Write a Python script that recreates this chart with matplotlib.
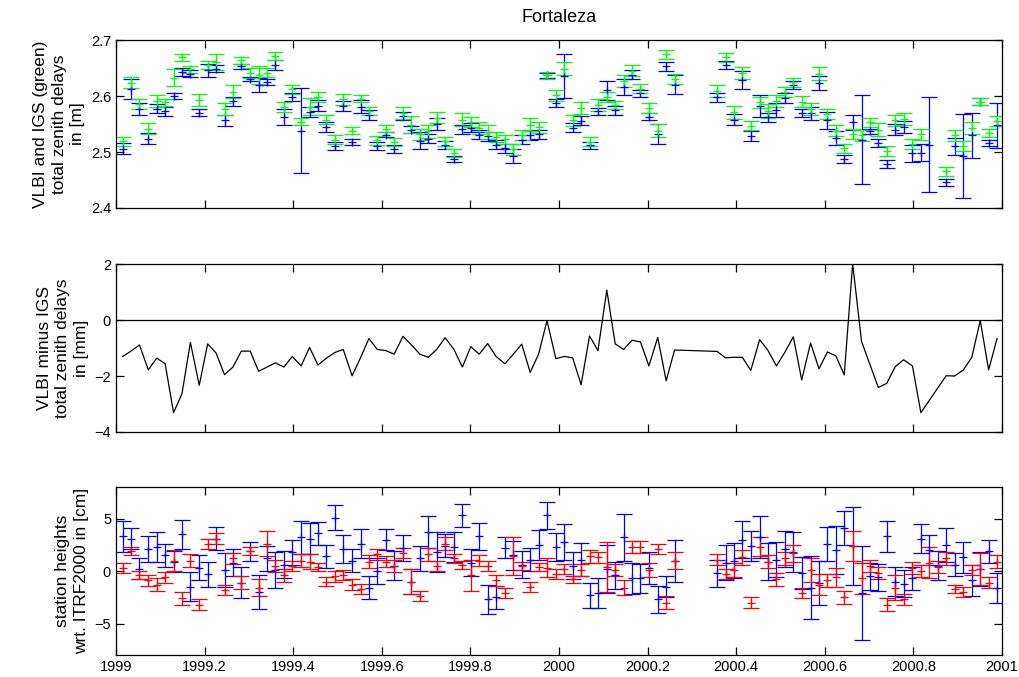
import numpy as np
import matplotlib
matplotlib.use("Agg")
import matplotlib.pyplot as plt

plt.rcParams['font.family'] = ['Liberation Sans', 'DejaVu Sans']

nan = np.nan

# session epochs (decimal year), weekly with a few gaps
epochs = [1999.015, 1999.034, 1999.053, 1999.073, 1999.092, 1999.111, 1999.130, 1999.149,
          1999.168, 1999.188, 1999.207, 1999.226, 1999.245, 1999.264, 1999.283, 1999.303,
          1999.322, 1999.341, 1999.360, 1999.379, 1999.398, 1999.418, 1999.437, 1999.456,
          1999.475, 1999.494, 1999.513, 1999.533, 1999.552, 1999.571, 1999.590, 1999.609,
          1999.628, 1999.648, 1999.667, 1999.686, 1999.705, 1999.724, 1999.743, 1999.763,
          1999.782, 1999.801, 1999.820, 1999.839, 1999.858, 1999.878, 1999.897, 1999.916,
          1999.935, 1999.954, 1999.973, 1999.993, 2000.012, 2000.031, 2000.050, 2000.069,
          2000.088, 2000.108, 2000.127, 2000.146, 2000.165, 2000.184, 2000.203, 2000.223,
          2000.242, 2000.261, 2000.357, 2000.376, 2000.395, 2000.414, 2000.433, 2000.453,
          2000.472, 2000.491, 2000.510, 2000.529, 2000.548, 2000.568, 2000.587, 2000.606,
          2000.625, 2000.644, 2000.663, 2000.683, 2000.702, 2000.721, 2000.740, 2000.759,
          2000.778, 2000.798, 2000.817, 2000.836, 2000.855, 2000.874, 2000.893, 2000.913,
          2000.932, 2000.951, 2000.970, 2000.989]

# total zenith delays [m]
vlbi_ztd = [2.506, 2.613, 2.577, 2.524, 2.577, 2.573, 2.600, 2.643, 2.640, 2.570, 2.646, 2.649,
            2.557, 2.591, 2.653, 2.630, 2.620, 2.625, 2.656, 2.563, 2.599, 2.538, 2.571, 2.583,
            2.544, 2.510, 2.583, 2.518, 2.581, 2.566, 2.510, 2.531, 2.506, 2.564, 2.540, 2.520,
            2.524, 2.550, 2.513, 2.487, 2.541, 2.543, 2.531, 2.528, 2.513, 2.507, 2.493, 2.522,
            2.530, 2.532, 2.637, 2.587, 2.636, 2.543, 2.556, 2.512, 2.573, 2.610, 2.575, 2.616,
            2.638, 2.605, 2.563, 2.532, 2.653, 2.620, 2.598, 2.655, 2.558, 2.628, 2.529, 2.582,
            2.562, 2.575, 2.596, 2.619, 2.569, 2.569, 2.623, 2.557, 2.525, 2.487, 2.553, 2.522,
            2.537, 2.516, 2.478, 2.540, 2.545, 2.498, 2.499, 2.513, nan, 2.446, 2.510, 2.493,
            2.530, 2.590, 2.516, 2.548]
vlbi_ztd_err = [.010, .018, .010, .010, .008, .008, .006, .007, .006, .006, .012, .006,
                .010, .008, .005, .004, .012, .005, .009, .014, .007, .076, .009, .010,
                .009, .007, .009, .005, .012, .009, .007, .005, .007, .007, .006, .015,
                .008, .010, .007, .005, .008, .008, .008, .008, .008, .008, .013, .008,
                .008, .008, .005, .007, .040, .008, .008, .006, .006, .017, .008, .015,
                .008, .006, .006, .018, .008, .017, .008, .007, .010, .016, .009, .020,
                .008, .013, .009, .007, .007, .012, .012, .015, .012, .007, .013, .079,
                .005, .007, .007, .010, .011, .015, .015, .085, nan, .006, .015, .075,
                .040, .006, .006, .040]
igs_ztd = [2.519, 2.624, 2.586, 2.542, 2.591, 2.589, 2.633, 2.669, 2.648, 2.593, 2.655, 2.661,
           2.577, 2.608, 2.664, 2.641, 2.638, 2.642, 2.671, 2.580, 2.612, 2.554, 2.581, 2.599,
           2.558, 2.522, 2.594, 2.538, 2.595, 2.573, 2.521, 2.542, 2.518, 2.570, 2.549, 2.532,
           2.537, 2.561, 2.519, 2.498, 2.558, 2.553, 2.543, 2.536, 2.526, 2.523, 2.505, 2.531,
           2.549, 2.544, 2.637, 2.601, 2.649, 2.557, 2.579, 2.518, 2.584, 2.599, 2.584, 2.627,
           2.645, 2.613, 2.579, 2.538, 2.675, 2.631, 2.609, 2.669, 2.571, 2.641, 2.547, 2.589,
           2.573, 2.591, 2.608, 2.625, 2.590, 2.577, 2.640, 2.568, 2.538, 2.507, 2.533, 2.530,
           2.553, 2.540, 2.501, 2.557, 2.559, 2.514, 2.532, nan, nan, 2.466, 2.530, 2.511,
           2.543, 2.590, 2.534, 2.555]
igs_ztd_err = [.008, .010, .009, .009, .011, .006, .015, .007, .006, .011, .007, .014,
               .011, .011, .006, .009, .016, .008, .007, .009, .008, .006, .015, .009,
               .008, .008, .010, .006, .006, .007, .008, .007, .007, .011, .015, .010,
               .012, .010, .008, .007, .011, .009, .010, .012, .009, .008, .010, .009,
               .012, .010, .006, .009, .012, .010, .011, .008, .010, .009, .008, .011,
               .010, .008, .009, .012, .008, .009, .010, .008, .012, .011, .008, .010,
               .012, .011, .009, .008, .010, .011, .012, .009, .010, .008, .009, .010,
               .008, .012, .009, .010, .011, .009, .010, nan, nan, .008, .010, .009,
               .011, .006, .008, .009]

# VLBI minus IGS [mm]
ztd_diff = [-1.30, -1.11, -0.89, -1.78, -1.36, -1.56, -3.31, -2.63, -0.80, -2.33, -0.85, -1.18,
            -1.95, -1.68, -1.11, -1.11, -1.83, -1.68, -1.53, -1.68, -1.30, -1.64, -0.98, -1.61,
            -1.36, -1.16, -1.05, -1.99, -1.35, -0.66, -1.05, -1.09, -1.22, -0.58, -0.89, -1.22,
            -1.33, -1.05, -0.63, -1.05, -1.68, -0.95, -1.22, -0.84, -1.30, -1.56, -1.22, -0.86,
            -1.87, -1.22, -0.02, -1.38, -1.30, -1.35, -2.31, -0.57, -1.09, 1.07, -0.85, -1.05,
            -0.72, -0.78, -1.64, -0.62, -2.17, -1.07, -1.12, -1.35, -1.33, -1.33, -1.80, -0.70,
            -1.09, -1.64, -1.15, -0.60, -2.14, -0.82, -1.74, -1.14, -1.28, -1.96, 2.01, -0.76,
            -1.59, -2.41, -2.26, -1.67, -1.42, -1.64, -3.31, nan, nan, -1.99, -2.00, -1.78,
            -1.33, -0.02, -1.78, -0.66]

# station heights wrt ITRF2000 [cm]
vlbi_height = [3.3, 3.1, 0.2, 2.1, 2.3, 1.5, 0.9, 3.5, -1.5, 0.3, -0.3, 3.1,
               0.1, 0.8, -1.1, 1.9, -2.0, 1.2, 0.1, 0.6, 1.8, 3.2, 3.1, 3.6,
               1.4, 5.1, 2.1, 1.0, 2.6, -1.6, 0.0, 3.0, 0.5, 2.2, -1.0, 1.2,
               3.7, 1.8, 2.4, 2.3, 5.3, 0.8, 3.3, -2.7, -2.5, 2.2, 1.5, 0.6,
               1.1, 2.5, 5.3, 2.3, 2.8, 0.5, 1.1, -2.3, -2.1, 0.2, -0.4, 3.2,
               -0.7, -0.7, 0.3, -2.7, -1.5, 1.0, -0.2, 0.8, 1.0, 3.0, 2.4, 3.2,
               0.9, 1.1, 2.1, 1.8, -0.2, -1.6, -1.1, 2.6, 2.0, 4.1, 2.4, -2.1,
               -0.5, -0.6, 3.3, -1.0, -1.2, -0.7, 3.1, 2.0, 0.5, 2.5, 0.6, 1.3,
               -0.9, 0.2, 1.9, -1.6]
vlbi_height_err = [1.5, 1.0, 1.0, 1.2, 1.4, 1.1, 1.0, 1.4, 1.4, 1.2, 1.2, 1.1,
                   1.6, 1.3, 1.5, 0.9, 1.6, 1.2, 1.7, 1.3, 1.2, 1.6, 1.5, 1.1,
                   1.1, 1.2, 1.3, 1.1, 1.4, 1.1, 1.2, 1.0, 1.4, 1.2, 1.2, 1.2,
                   1.5, 1.9, 1.1, 1.4, 1.1, 1.3, 1.3, 1.4, 1.1, 1.0, 1.4, 1.3,
                   1.1, 1.4, 1.3, 1.3, 1.7, 1.3, 1.6, 1.2, 1.4, 2.3, 1.3, 2.2,
                   1.5, 1.4, 1.5, 1.3, 1.0, 2.0, 1.3, 1.7, 1.7, 1.8, 1.4, 2.0,
                   1.8, 1.7, 1.7, 1.9, 1.5, 3.0, 2.1, 1.6, 2.3, 1.6, 3.7, 4.5,
                   1.3, 1.3, 1.5, 1.4, 1.3, 1.1, 1.4, 1.4, 1.4, 1.6, 1.1, 1.5,
                   1.5, 1.6, 1.1, 1.4]
gps_height = [0.3, 1.9, -0.4, -0.9, -1.3, -0.6, 1.0, -2.6, 1.0, -3.2, 2.6, 3.1,
              -1.8, 1.2, -1.1, 1.9, -1.6, 2.6, 0.5, -0.4, 0.5, 1.0, 0.9, 0.4,
              -1.0, -0.5, -0.4, -1.3, -1.7, 0.9, 1.6, 0.9, 0.5, 1.7, -1.0, -2.4,
              1.6, 0.5, 2.6, 1.2, 0.6, -0.4, 1.0, 0.5, -0.9, -2.1, 1.4, 0.5,
              -1.5, 0.4, 0.3, -0.3, 0.2, -0.8, 0.1, 1.4, 1.3, 0.4, 0.1, -1.6,
              2.3, 2.3, 0.1, 2.1, -3.0, 1.0, 1.1, -0.3, 0.1, 1.3, -3.0, 2.3,
              0.9, -0.8, 1.2, 1.7, -2.1, 0.1, -1.3, -0.9, -0.6, -2.5, 2.4, -0.7,
              0.5, -0.2, -3.2, -1.6, -2.7, 0.3, 0.0, 0.8, 0.4, 1.2, -1.7, -2.0,
              0.1, 0.2, -1.1, 0.9]
gps_height_err = [0.5, 0.4, 0.4, 0.5, 0.6, 0.5, 1.0, 0.6, 0.6, 0.5, 0.5, 0.5,
                  0.5, 0.5, 0.6, 0.4, 0.8, 1.2, 0.6, 0.6, 0.5, 0.6, 0.7, 0.4,
                  0.4, 0.5, 0.5, 0.5, 0.5, 0.6, 0.5, 0.5, 0.6, 0.5, 1.2, 0.5,
                  0.6, 0.5, 0.6, 0.4, 0.4, 1.5, 0.5, 0.5, 0.5, 0.5, 1.8, 0.4,
                  0.5, 0.4, 0.9, 0.5, 0.5, 0.3, 0.6, 0.6, 0.5, 2.4, 0.6, 0.7,
                  0.6, 0.6, 0.7, 0.5, 0.6, 0.8, 0.5, 0.5, 0.7, 0.7, 0.5, 0.9,
                  0.6, 0.6, 0.6, 0.8, 0.5, 1.1, 1.0, 0.6, 0.9, 0.6, 1.4, 1.5,
                  0.6, 0.6, 0.6, 1.2, 0.5, 0.6, 0.6, 1.5, 0.6, 0.6, 0.4, 0.5,
                  0.5, 1.5, 0.5, 0.6]

xticks = [1999, 1999.2, 1999.4, 1999.6, 1999.8, 2000, 2000.2, 2000.4, 2000.6, 2000.8, 2001]
xticklabels = ['1999', '1999.2', '1999.4', '1999.6', '1999.8', '2000',
               '2000.2', '2000.4', '2000.6', '2000.8', '2001']

fig = plt.figure(figsize=(10.2, 6.77), dpi=100)
left, width, height = 0.1137, 0.8686, 0.248
ax1 = fig.add_axes([left, 0.6928, width, height])
ax2 = fig.add_axes([left, 0.3619, width, height])
ax3 = fig.add_axes([left, 0.0325, width, height])

# capsize is half the cap length in matplotlib
eb = dict(fmt='+', ls='none', elinewidth=0.9, capthick=0.9, capsize=6, markersize=6, mew=0.9)

ax1.errorbar(epochs, vlbi_ztd, yerr=vlbi_ztd_err, color='#0000ff', **eb)
ax1.errorbar(epochs, igs_ztd, yerr=igs_ztd_err, color='#00ff00', **eb)
ax1.set_ylim(2.4, 2.7)
ax1.set_yticks([2.4, 2.5, 2.6, 2.7])
ax1.set_yticklabels(['2.4', '2.5', '2.6', '2.7'])
ax1.set_title('Fortaleza', fontsize=13, pad=13)
ax1.set_ylabel('VLBI and IGS (green)\ntotal zenith delays\nin [m]', fontsize=12.5,
               linespacing=1.3)

t = np.array(epochs)
d = np.array(ztd_diff)
ok = ~np.isnan(d)
ax2.plot(t[ok], d[ok], color='k', lw=0.9)
ax2.axhline(0, color='k', lw=0.9)
ax2.set_ylim(-4, 2)
ax2.set_yticks([-4, -2, 0, 2])
ax2.set_yticklabels(['\u22124', '\u22122', '0', '2'])
ax2.set_ylabel('VLBI minus IGS\ntotal zenith delays\nin [mm]', fontsize=12.5,
               linespacing=1.3)

ax3.errorbar(epochs, vlbi_height, yerr=vlbi_height_err, color='#0000ff', **eb)
ax3.errorbar(epochs, gps_height, yerr=gps_height_err, color='#ff0000', **eb)
ax3.set_ylim(-8, 8)
ax3.set_yticks([-5, 0, 5])
ax3.set_yticklabels(['\u22125', '0', '5'])
ax3.set_ylabel('station heights\nwrt. ITRF2000 in [cm]', fontsize=12.5, linespacing=1.3)

for ax in (ax1, ax2, ax3):
    ax.set_xlim(1999, 2001)
    ax.set_xticks(xticks)
    ax.tick_params(direction='in', top=True, right=True, length=6, width=0.9,
                   labelsize=10.5)
    for s in ax.spines.values():
        s.set_linewidth(0.9)
    ax.set_xticklabels([])
ax3.set_xticklabels(xticklabels)

fig.savefig('out.png', dpi=100)
